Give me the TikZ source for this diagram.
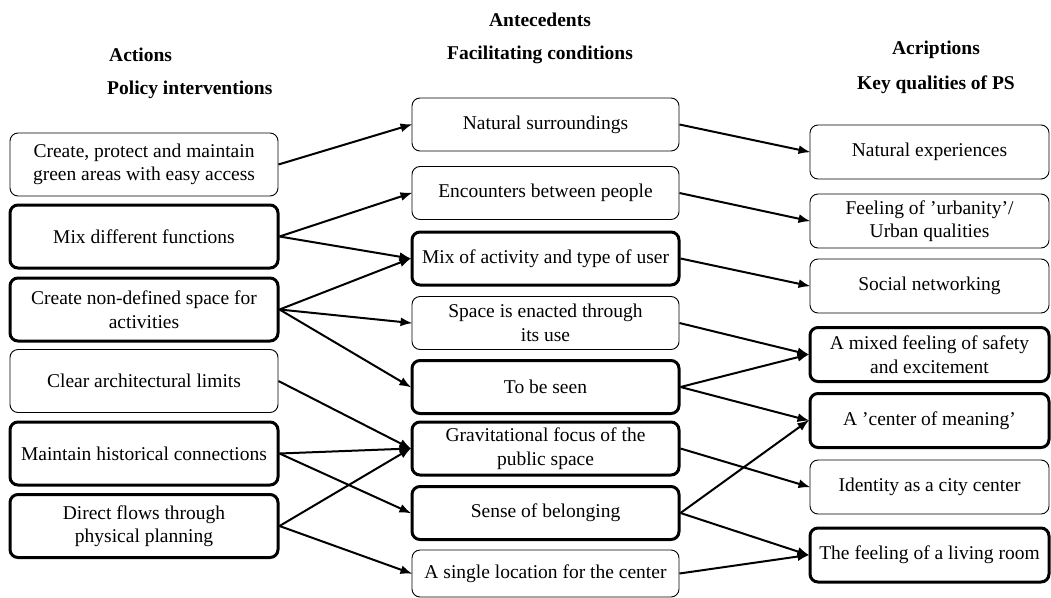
\documentclass[tikz,border=0pt]{standalone}
\usepackage{fontspec}
\setmainfont{Liberation Serif}
\usetikzlibrary{arrows.meta}
\tikzset{
  box/.style={draw, rounded corners=8pt, line width=0.9pt, align=center, inner sep=2pt,
    font=\fontsize{19.5}{23.5}\selectfont},
  thick box/.style={box, line width=3pt},
  lbox/.style={minimum width=268pt, minimum height=63pt},
  mbox/.style={minimum width=267pt, minimum height=53pt},
  rbox/.style={minimum width=239pt, minimum height=54pt},
  hdr/.style={font=\bfseries\fontsize{19.5}{23.5}\selectfont, inner sep=0pt},
  arr/.style={-{Latex[length=12pt,width=9pt]}, line width=2pt, shorten >=-1pt},
}
\begin{document}
\begin{tikzpicture}[x=1pt,y=-1pt]
\useasboundingbox (0,0) rectangle (1051,597);
% headers
\node[hdr] (h1) at (540,20) {Antecedents};
\node[hdr, anchor=west] (h2) at (109,55) {Actions};
\node[hdr] (h3) at (540,55) {Facilitating conditions};
\node[hdr, anchor=west] (h4) at (107,90) {Policy interventions};
\node[hdr] (h5) at (936,50) {Acriptions};
\node[hdr] (h6) at (936,85) {Key qualities of PS};
% left column
\node[box, lbox] (L1) at (144,164.5) {Create, protect and maintain\\green areas with easy access};
\node[thick box, lbox] (L2) at (144,236.5) {Mix different functions};
\node[thick box, lbox] (L3) at (144,309.5) {Create non-defined space for\\activities};
\node[box, lbox] (L4) at (144,381) {Clear architectural limits};
\node[thick box, lbox] (L5) at (144,453.5) {Maintain historical connections};
\node[thick box, lbox] (L6) at (144,526) {Direct flows through\\physical planning};
% middle column
\node[box, mbox] (M1) at (545.5,124.5) {Natural surroundings};
\node[box, mbox] (M2) at (545.5,193) {Encounters between people};
\node[thick box, mbox] (M3) at (545.5,258.5) {Mix of activity and type of user};
\node[box, mbox] (M4) at (545.5,323) {Space is enacted through\\its use};
\node[thick box, mbox] (M5) at (545.5,387) {To be seen};
\node[thick box, mbox] (M6) at (545.5,448.5) {Gravitational focus of the\\public space};
\node[thick box, mbox] (M7) at (545.5,513) {Sense of belonging};
\node[box, mbox, minimum height=47pt] (M8) at (545.5,573.5) {A single location for the center};
% right column
\node[box, rbox] (R1) at (929.5,152) {Natural experiences};
\node[box, rbox] (R2) at (929.5,221) {Feeling of 'urbanity'/\\Urban qualities};
\node[box, rbox] (R3) at (929.5,286) {Social networking};
\node[thick box, rbox] (R4) at (929.5,354.5) {A mixed feeling of safety\\and excitement};
\node[thick box, rbox] (R5) at (929.5,420.5) {A 'center of meaning'};
\node[box, rbox] (R6) at (929.5,487) {Identity as a city center};
\node[thick box, rbox] (R7) at (929.5,555) {The feeling of a living room};
% connectors left -> middle
\draw[arr] (L1.east) -- (M1.west);
\draw[arr] (L2.east) -- (M2.west);
\draw[arr] (L2.east) -- (M3.west);
\draw[arr] (L3.east) -- (M3.west);
\draw[arr] (L3.east) -- (M4.west);
\draw[arr] (L3.east) -- (M5.west);
\draw[arr] (L4.east) -- (M6.west);
\draw[arr] (L5.east) -- (M6.west);
\draw[arr] (L5.east) -- (M7.west);
\draw[arr] (L6.east) -- (M6.west);
\draw[arr] (L6.east) -- (M8.west);
% connectors middle -> right
\draw[arr] (M1.east) -- (R1.west);
\draw[arr] (M2.east) -- (R2.west);
\draw[arr] (M3.east) -- (R3.west);
\draw[arr] (M4.east) -- (R4.west);
\draw[arr] (M5.east) -- (R4.west);
\draw[arr] (M5.east) -- (R5.west);
\draw[arr] (M6.east) -- (R6.west);
\draw[arr] (M7.east) -- (R5.west);
\draw[arr] (M7.east) -- (R7.west);
\draw[arr] (M8.east) -- (R7.west);
\end{tikzpicture}
\end{document}
